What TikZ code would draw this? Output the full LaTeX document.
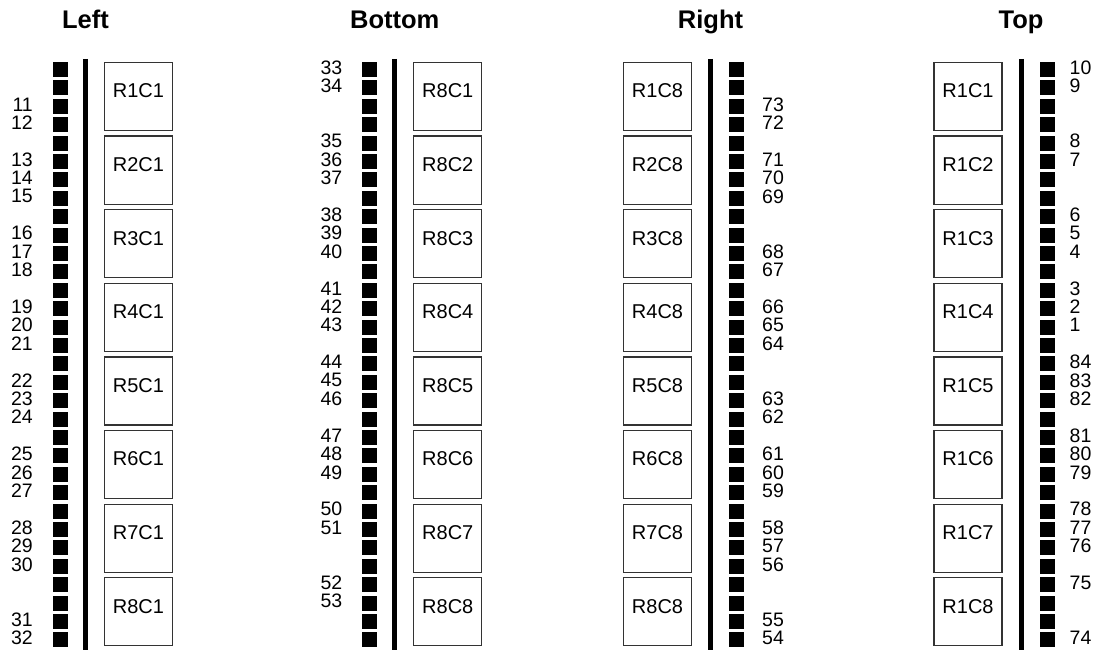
\documentclass[tikz,border=0pt]{standalone}
\usepackage{fontspec}
\setmainfont{Liberation Sans}
\begin{document}
\begin{tikzpicture}[x=1pt,y=-1pt,
  pad/.style={fill=black,minimum size=15pt,inner sep=0pt,outer sep=0pt},
  cell/.style={draw=black!80,line width=1.2pt,minimum size=68pt,inner sep=0pt},
  celltext/.style={font=\fontsize{20}{24}\selectfont,anchor=base,inner sep=0pt},
  pinl/.style={font=\fontsize{19.5}{22}\selectfont,inner sep=0pt,anchor=east},
  pinr/.style={font=\fontsize{19.5}{22}\selectfont,inner sep=0pt,anchor=west},
  title/.style={font=\bfseries\fontsize{25.5}{30}\selectfont,anchor=base,inner sep=0pt},
  bar/.style={line width=5pt}]
\useasboundingbox (0,0) rectangle (1105,650);

% titles
\node[title] (tL) at (85.5,28.3) {Left};
\node[title] (tB) at (394.8,28.3) {Bottom};
\node[title] (tR) at (710.5,28.3) {Right};
\node[title] (tT) at (1021,28.3) {Top};

% bars
\foreach \n/\x in {L/85.5,B/394.8,R/710.5,T/1021}{
  \coordinate (bar\n a) at (\x,59);
  \coordinate (bar\n b) at (\x,650);
  \draw[bar] (bar\n a) -- (bar\n b);
}

% pads
\foreach \i in {0,...,31}{
  \node[pad] (padL\i) at (60.5,{69.5+18.4*\i}) {};
  \node[pad] (padB\i) at (369.8,{69.5+18.4*\i}) {};
  \node[pad] (padR\i) at (736.5,{69.5+18.4*\i}) {};
  \node[pad] (padT\i) at (1047,{69.5+18.4*\i}) {};
}

% cells
\foreach \k in {1,...,8}{
  \node[cell] (boxL\k) at (138.5,{96.5+73.6*(\k-1)}) {};
  \node[celltext] (txtL\k) at ([yshift=-36pt]boxL\k.north) {R\k C1};
  \node[cell] (boxB\k) at (447.8,{96.5+73.6*(\k-1)}) {};
  \node[celltext] (txtB\k) at ([yshift=-36pt]boxB\k.north) {R8C\k};
  \node[cell] (boxR\k) at (657.5,{96.5+73.6*(\k-1)}) {};
  \node[celltext] (txtR\k) at ([yshift=-36pt]boxR\k.north) {R\k C8};
  \node[cell] (boxT\k) at (968,{96.5+73.6*(\k-1)}) {};
  \node[celltext] (txtT\k) at ([yshift=-36pt]boxT\k.north) {R1C\k};
}

% pin labels
\foreach \p/\t in {2/11,3/12,5/13,6/14,7/15,9/16,10/17,11/18,13/19,14/20,15/21,17/22,18/23,19/24,21/25,22/26,23/27,25/28,26/29,27/30,30/31,31/32}
  \node[pinl] (pin\t) at (33,{67.5+18.4*\p}) {\t};
\foreach \p/\t in {0/33,1/34,4/35,5/36,6/37,8/38,9/39,10/40,12/41,13/42,14/43,16/44,17/45,18/46,20/47,21/48,22/49,24/50,25/51,28/52,29/53}
  \node[pinl] (pin\t) at (342.5,{67.5+18.4*\p}) {\t};
\foreach \p/\t in {2/73,3/72,5/71,6/70,7/69,10/68,11/67,13/66,14/65,15/64,18/63,19/62,21/61,22/60,23/59,25/58,26/57,27/56,30/55,31/54}
  \node[pinr] (pin\t) at (762,{67.5+18.4*\p}) {\t};
\foreach \p/\t in {0/10,1/9,4/8,5/7,8/6,9/5,10/4,12/3,13/2,14/1,16/84,17/83,18/82,20/81,21/80,22/79,24/78,25/77,26/76,28/75,31/74}
  \node[pinr] (pin\t) at (1069.5,{67.5+18.4*\p}) {\t};
\end{tikzpicture}
\end{document}
